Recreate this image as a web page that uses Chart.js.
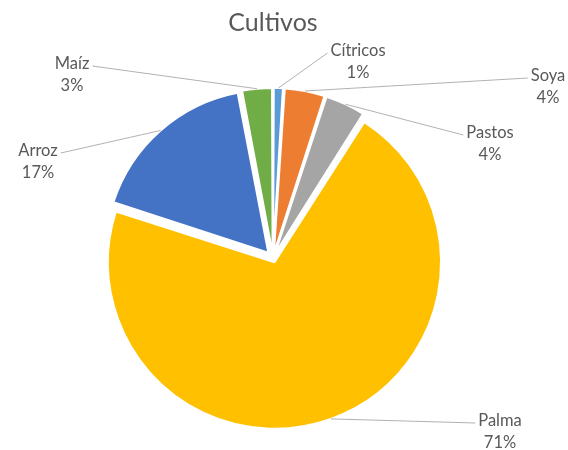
<!DOCTYPE html>
<html>
<head>
<meta charset="utf-8">
<script src="https://cdn.jsdelivr.net/npm/chart.js@4/dist/chart.umd.min.js"></script>
<style>
  body { margin: 0; background: #fff; }
</style>
</head>
<body>
<canvas id="pie" width="568" height="450"></canvas>
<script>
const cultivos = ["Cítricos", "Soya", "Pastos", "Palma", "Arroz", "Maíz"];
const porcentajes = [1, 4, 4, 71, 17, 3];
const colores = ["#5B9BD5", "#ED7D31", "#A5A5A5", "#FFC000", "#4472C4", "#70AD47"];

// label placement (centre of the first text line) and how far each slice is pulled out
const labelPos = [[358, 51], [548, 76], [490, 133], [500, 421], [38, 151], [72, 64]];
const explode = [8, 8, 8, 9, 8, 8];

// chart.js moves an arc by offset/4*(1+fix); work back from the wanted shift
function arcFix(i) {
    const total = porcentajes.reduce((a, b) => a + b, 0);
    const c = porcentajes[i] / total * 2 * Math.PI;
    return 1 - Math.sin(Math.min(Math.PI, c));
}

const leaderLabels = {
    id: "leaderLabels",
    afterDatasetsDraw(chart) {
        const ctx = chart.ctx;
        const arcs = chart.getDatasetMeta(0).data;
        ctx.save();
        ctx.font = "16.5px Lato";
        ctx.textAlign = "center";
        ctx.textBaseline = "middle";
        arcs.forEach((arc, i) => {
            const p = arc.getProps(["x", "y", "startAngle", "endAngle", "outerRadius"], true);
            const mid = (p.startAngle + p.endAngle) / 2;
            const r = p.outerRadius + explode[i];
            const px = p.x + Math.cos(mid) * r;
            const py = p.y + Math.sin(mid) * r;
            const [lx, ly] = labelPos[i];
            const w = ctx.measureText(cultivos[i]).width;
            const ex = lx > px ? lx - w / 2 - 3 : lx + w / 2 + 3;
            ctx.strokeStyle = "#b5b0b0";
            ctx.lineWidth = 1;
            ctx.beginPath();
            ctx.moveTo(px, py);
            ctx.lineTo(ex, ly + 2);
            ctx.stroke();
            ctx.fillStyle = "#595959";
            ctx.fillText(cultivos[i], lx, ly);
            ctx.fillText(porcentajes[i] + "%", lx, ly + 22);
        });
        ctx.restore();
    }
};

new Chart(document.getElementById("pie").getContext("2d"), {
    type: "pie",
    data: {
        labels: cultivos,
        datasets: [{
            data: porcentajes,
            backgroundColor: colores,
            borderColor: "#ffffff",
            borderWidth: 2,
            offset: c => explode[c.dataIndex] * 4 / (1 + arcFix(c.dataIndex))
        }]
    },
    options: {
        responsive: false,
        animation: false,
        events: [],
        radius: 162,
        layout: { padding: { left: 0, right: 22, top: 0, bottom: 4 } },
        plugins: {
            legend: { display: false },
            tooltip: { enabled: false },
            title: {
                display: true,
                text: "Cultivos",
                color: "#595959",
                font: { family: "Lato", size: 25, weight: "normal" },
                padding: { top: 8, bottom: 32 }
            }
        }
    },
    plugins: [leaderLabels]
});
</script>
</body>
</html>
